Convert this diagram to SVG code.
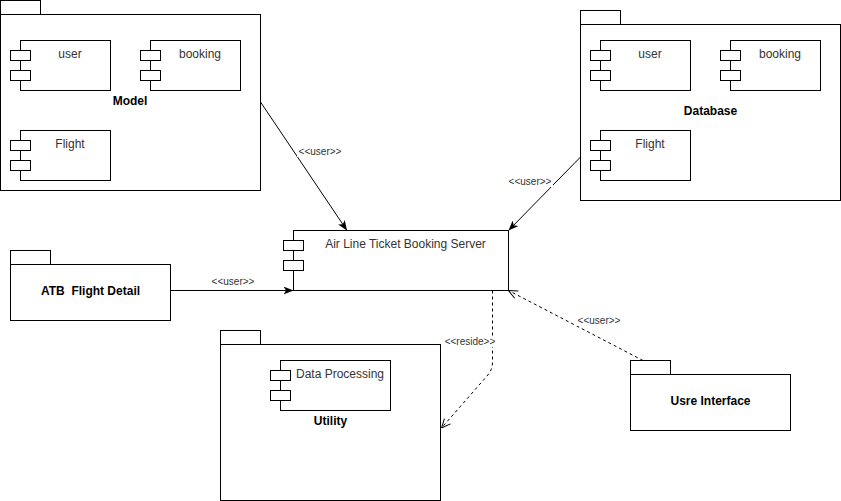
<svg xmlns="http://www.w3.org/2000/svg" width="841" height="501" viewBox="0 0 841 501">
<style>
.b{fill:#fff;stroke:#000;stroke-width:1}
.t{font-family:"Liberation Sans",Arial,sans-serif;font-size:12px;fill:#333;text-anchor:middle}
.pk{font-family:"Liberation Sans",Arial,sans-serif;font-size:12px;font-weight:bold;fill:#000;text-anchor:middle;white-space:pre}
.el{font-family:"Liberation Sans",Arial,sans-serif;font-size:10px;fill:#333;text-anchor:middle}
.ln{fill:none;stroke:#000;stroke-width:1}
.ds{fill:none;stroke:#000;stroke-width:1;stroke-dasharray:3 3}
</style>
<defs>
<marker id="blk" viewBox="0 0 10 8" refX="10" refY="4" markerWidth="10" markerHeight="8" markerUnits="userSpaceOnUse" orient="auto">
<path d="M0,0 L10,4 L0,8 L2.5,4 Z" fill="#000"/>
</marker>
<marker id="opn" viewBox="0 0 10 10" refX="10" refY="5" markerWidth="10" markerHeight="10" markerUnits="userSpaceOnUse" orient="auto">
<path d="M1,1 L10,5 L1,9" fill="none" stroke="#000" stroke-width="1"/>
</marker>
</defs>

<g id="model">
<rect class="b" x="0.5" y="0.5" width="40" height="14"/>
<rect class="b" x="0.5" y="14.5" width="260" height="176"/>
<text class="pk" x="130" y="104.5">Model</text>
<g id="model-user">
<rect class="b" x="20.5" y="40.5" width="90" height="50"/>
<rect class="b" x="10.5" y="50.5" width="20" height="10"/>
<rect class="b" x="10.5" y="70.5" width="20" height="10"/>
<text class="t" x="70" y="58">user</text>
</g>
<g id="model-booking">
<rect class="b" x="150.5" y="40.5" width="90" height="50"/>
<rect class="b" x="140.5" y="50.5" width="20" height="10"/>
<rect class="b" x="140.5" y="70.5" width="20" height="10"/>
<text class="t" x="200" y="58">booking</text>
</g>
<g id="model-flight">
<rect class="b" x="20.5" y="130.5" width="90" height="50"/>
<rect class="b" x="10.5" y="140.5" width="20" height="10"/>
<rect class="b" x="10.5" y="160.5" width="20" height="10"/>
<text class="t" x="70" y="148">Flight</text>
</g>
</g>

<g id="database">
<rect class="b" x="580.5" y="10.5" width="40" height="14"/>
<rect class="b" x="580.5" y="24.5" width="260" height="176"/>
<text class="pk" x="710.5" y="115">Database</text>
<g id="db-user">
<rect class="b" x="600.5" y="40.5" width="90" height="50"/>
<rect class="b" x="590.5" y="50.5" width="20" height="10"/>
<rect class="b" x="590.5" y="70.5" width="20" height="10"/>
<text class="t" x="650" y="58">user</text>
</g>
<g id="db-booking">
<rect class="b" x="730.5" y="40.5" width="90" height="50"/>
<rect class="b" x="720.5" y="50.5" width="20" height="10"/>
<rect class="b" x="720.5" y="70.5" width="20" height="10"/>
<text class="t" x="780" y="58">booking</text>
</g>
<g id="db-flight">
<rect class="b" x="600.5" y="130.5" width="90" height="50"/>
<rect class="b" x="590.5" y="140.5" width="20" height="10"/>
<rect class="b" x="590.5" y="160.5" width="20" height="10"/>
<text class="t" x="650" y="148">Flight</text>
</g>
</g>

<g id="server">
<rect class="b" x="293.5" y="230.5" width="215" height="60"/>
<rect class="b" x="283.5" y="240.5" width="20" height="10"/>
<rect class="b" x="283.5" y="260.5" width="20" height="10"/>
<text class="t" x="405.5" y="248">Air Line Ticket Booking Server</text>
</g>

<g id="atb">
<rect class="b" x="10.5" y="250.5" width="40" height="14"/>
<rect class="b" x="10.5" y="264.5" width="160" height="56"/>
<text class="pk" x="90.5" y="295">ATB  Flight Detail</text>
</g>

<g id="utility">
<rect class="b" x="220.5" y="330.5" width="40" height="14"/>
<rect class="b" x="220.5" y="344.5" width="220" height="156"/>
<text class="pk" x="330.5" y="425">Utility</text>
<g id="data-processing">
<rect class="b" x="280.5" y="360.5" width="110" height="50"/>
<rect class="b" x="270.5" y="370.5" width="20" height="10"/>
<rect class="b" x="270.5" y="390.5" width="20" height="10"/>
<text class="t" x="340" y="378">Data Processing</text>
</g>
</g>

<g id="ui">
<rect class="b" x="630.5" y="360.5" width="40" height="14"/>
<rect class="b" x="630.5" y="374.5" width="160" height="56"/>
<text class="pk" x="710.5" y="405">Usre Interface</text>
</g>

<g id="connectors">
<line class="ln" x1="260.5" y1="102" x2="347" y2="230.5" marker-end="url(#blk)"/>
<line class="ln" x1="580.5" y1="157" x2="508.5" y2="230.5" marker-end="url(#blk)"/>
<line class="ln" x1="170.5" y1="290.5" x2="293.5" y2="290.5" marker-end="url(#blk)"/>
<path class="ds" d="M492.5,290.5 L492.5,362 Q492.5,370 487,376 L441.5,428" marker-end="url(#opn)"/>
<line class="ds" x1="643" y1="360.5" x2="508.5" y2="290.5" marker-end="url(#opn)"/>
<rect x="297" y="146" width="46" height="11" fill="#fff"/>
<text class="el" x="320" y="155">&lt;&lt;user&gt;&gt;</text>
<rect x="507" y="176" width="46" height="11" fill="#fff"/>
<text class="el" x="530" y="185">&lt;&lt;user&gt;&gt;</text>
<text class="el" x="233" y="285">&lt;&lt;user&gt;&gt;</text>
<rect x="443" y="336" width="55" height="11" fill="#fff"/>
<text class="el" x="470" y="345">&lt;&lt;reside&gt;&gt;</text>
<rect x="576" y="315" width="46" height="11" fill="#fff"/>
<text class="el" x="599" y="324">&lt;&lt;user&gt;&gt;</text>
</g>
</svg>
